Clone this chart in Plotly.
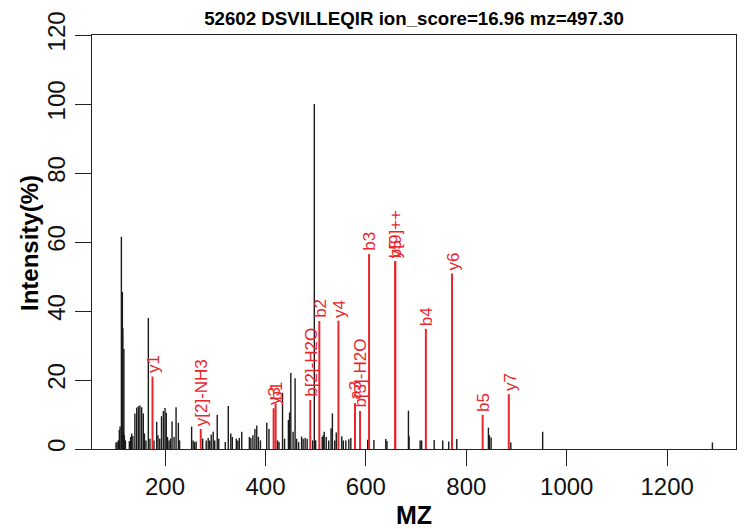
import plotly.graph_objects as go

# ---- data ----
black_mz = [102.4, 104.5, 107, 109, 110.5, 113.1, 114.1, 115.1, 116.1, 117.1, 118.1, 119.1, 121.1,
            129, 131.5, 133.6, 136, 140, 143.6, 146.9, 150, 153.5, 156.8, 159, 162, 166.8, 170, 178,
            183.4, 186, 189.5, 193, 196.7, 200, 202.5, 205, 208, 211, 214, 218, 222, 226.6, 229,
            253, 256, 259, 262, 275, 282, 286, 289, 292, 296, 299, 304, 307, 320, 326, 331, 334,
            342, 345, 348, 352.8, 368, 371, 375, 379, 382.7, 386, 390, 402.6, 407, 424, 427, 434,
            438, 445.7, 448, 450.5, 455, 459, 462, 466, 472, 475, 479, 483, 494, 497.3, 500, 513,
            515, 517, 521, 526, 530.6, 533.3, 538, 541, 552, 555, 560, 566, 570, 603.6, 616, 639.6,
            642, 684.7, 686, 708, 711, 736, 753, 765, 781, 844, 846, 849.4, 888.6, 952, 1290]
black_int = [1.9, 2.0, 2.5, 5.5, 6.5, 61.5, 8, 45.5, 35, 5, 29, 4, 2.5,
             2.3, 3.5, 4.5, 3.8, 10.3, 12, 12.4, 12.6, 12.1, 10.3, 4.5, 2.5, 38, 3, 2.5,
             7.9, 4, 3, 9.5, 11, 11.9, 10.5, 3.5, 2.5, 3, 8, 3.5, 12.1, 7.6, 2.5,
             6.5, 2.5, 2, 2.2, 3, 2.5, 3.2, 2.5, 4.2, 5, 2.5, 9.9, 3, 2, 12.5, 4.5, 3.5,
             3, 2.5, 3.2, 5, 3.5, 3.2, 4, 5.8, 6.8, 3.5, 2.5, 7.6, 5.8, 2.5, 2, 16.3,
             3, 8.4, 10.6, 22, 5, 20.5, 3, 2, 3.6, 3, 3.2, 3, 2.5, 100, 2.5, 3.5,
             4, 5, 3.5, 2.5, 6, 10.3, 2.5, 4.8, 3.7, 2.5, 2.5, 2.8, 3.2, 2.7, 2.6, 2.9,
             2.3, 11.1, 3.7, 2.5, 2.5, 2.6, 2.5, 2.2, 2.9, 6.2, 4, 3.3, 1.9, 5.0, 1.9]

ion_labels = ["y1", "y[2]-NH3", "y3", "b1", "b[2]-H2O", "b2", "y4", "a3", "b[3]-H2O", "b3",
              "y5", "b[9]++", "b4", "y6", "b5", "y7"]
ion_mz = [175.12, 271.17, 416.26, 420.23, 489.27, 507.28, 545.30, 578.35, 588.33, 606.34,
          658.39, 658.39, 719.43, 771.47, 832.51, 884.56]
ion_int = [21, 5.8, 11.8, 13.2, 14.2, 37.1, 37.2, 13.3, 11.0, 56.5,
           54.5, 54.5, 34.8, 50.9, 9.9, 15.9]

x_ticks = [200, 400, 600, 800, 1000, 1200]
y_ticks = [0, 20, 40, 60, 80, 100, 120]

title_text = "52602 DSVILLEQIR ion_score=16.96 mz=497.30"

RED = "#E8262B"
FONT = "Liberation Sans, Arial, sans-serif"

# page body has an 8px default offset; figure size/margins compensate for it
W, H = 737, 521

def sticks(xs, ys):
    X, Y = [], []
    for a, b in zip(xs, ys):
        X += [a, a, None]
        Y += [0, b, None]
    return X, Y

fig = go.Figure()
bx, by = sticks(black_mz, black_int)
fig.add_trace(go.Scatter(x=bx, y=by, mode="lines", line=dict(color="#1a1a1a", width=1.4),
                         hoverinfo="skip", showlegend=False))
rx, ry = sticks(ion_mz, ion_int)
fig.add_trace(go.Scatter(x=rx, y=ry, mode="lines", line=dict(color=RED, width=2),
                         hoverinfo="skip", showlegend=False))

for lab, m, h in zip(ion_labels, ion_mz, ion_int):
    fig.add_annotation(x=m, y=h, text=lab, textangle=-90, showarrow=False,
                       xanchor="center", yanchor="bottom", yshift=1, xshift=1,
                       font=dict(family=FONT, size=17, color=RED))

fig.add_annotation(x=0.5, xref="paper", y=-0.16, yref="paper", text="<b>MZ</b>",
                   showarrow=False, xanchor="center", yanchor="middle",
                   font=dict(family=FONT, size=25, color="black"))
fig.add_annotation(x=-0.0963, xref="paper", y=0.4976, yref="paper", text="<b>Intensity(%)</b>",
                   showarrow=False, textangle=-90, xanchor="center", yanchor="middle",
                   font=dict(family=FONT, size=24, color="black"))

fig.update_layout(
    width=W, height=H,
    margin=dict(l=84, r=9, t=27, b=80, autoexpand=False),
    paper_bgcolor="white", plot_bgcolor="white",
    title=dict(text="<b>" + title_text + "</b>", x=406 / W, xanchor="center",
               xref="container", yref="container",
               y=1 - 10 / H, yanchor="middle", automargin=False,
               font=dict(family=FONT, size=18.7, color="black")),
    xaxis=dict(range=[54.6, 1337], tickvals=x_ticks, ticktext=[str(v) for v in x_ticks],
               ticks="outside", ticklen=16, tickwidth=1.3, tickcolor="#222",
               showline=True, linecolor="#222", linewidth=1.3, mirror=True,
               showgrid=False, zeroline=False, automargin=False,
               tickfont=dict(family=FONT, size=24, color="#111")),
    yaxis=dict(range=[0, 120], tickvals=y_ticks, ticktext=[str(v) for v in y_ticks],
               ticks="outside", ticklen=16, tickwidth=1.3, tickcolor="#222",
               showline=True, linecolor="#222", linewidth=1.3, mirror=True,
               showgrid=False, zeroline=False, tickangle=-90, automargin=False,
               tickfont=dict(family=FONT, size=24, color="#111")),
)

fig.write_html("out.html")
